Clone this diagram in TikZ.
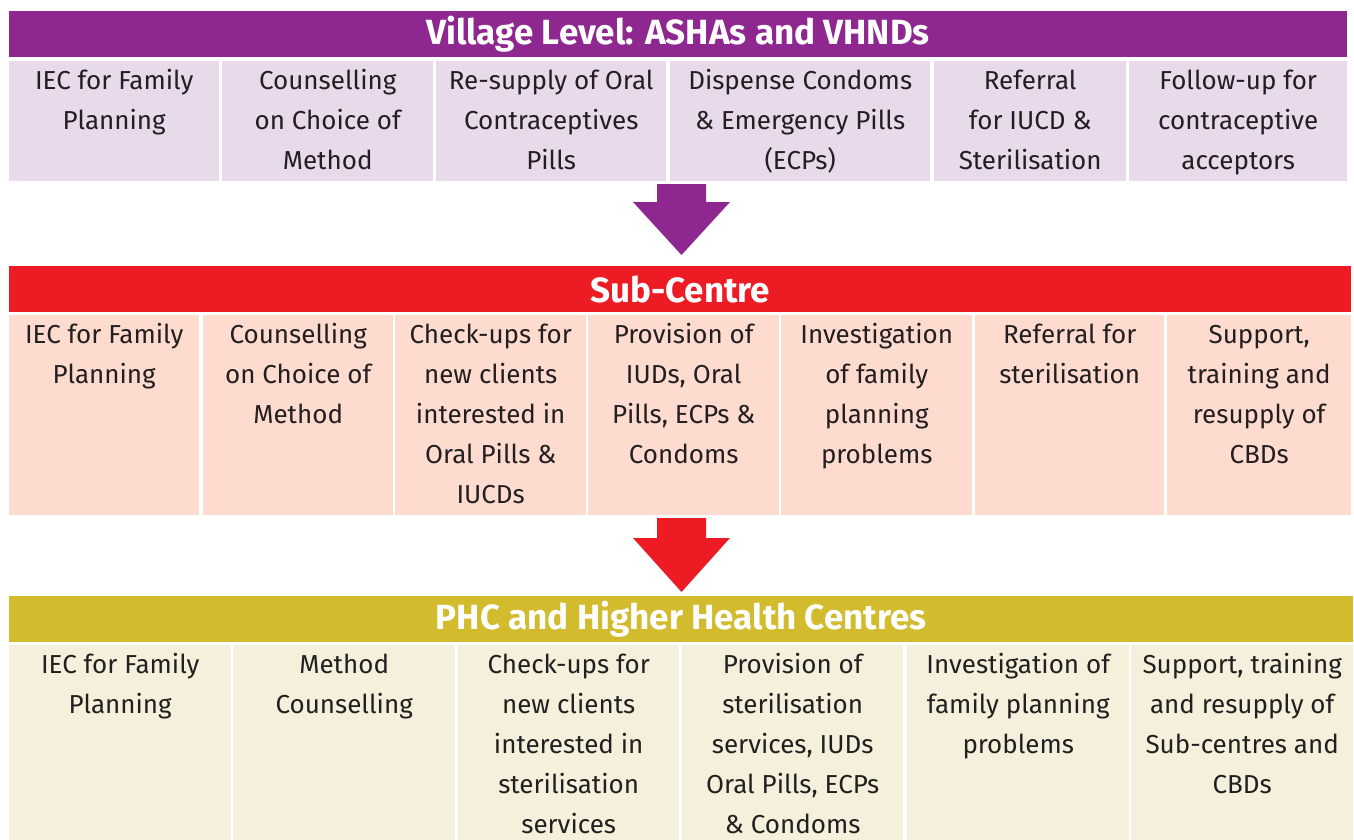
\documentclass[tikz,border=0pt]{standalone}
\usepackage{fontspec}
\setmainfont{Fira Sans}
\usepackage{tikz}
\usetikzlibrary{positioning}

\definecolor{ashapurple}{HTML}{8E278F}
\definecolor{ashacell}{HTML}{E8D9EB}
\definecolor{subred}{HTML}{ED1C24}
\definecolor{subcell}{HTML}{FDDCCF}
\definecolor{phcgold}{HTML}{D2BB2C}
\definecolor{phccell}{HTML}{F5F0DC}
\definecolor{textdark}{HTML}{231F20}

\tikzstyle{level}=[
  rectangle,
  inner sep=0pt,
  anchor=north west,
  text=white,
  font={\fontsize{35}{40}\selectfont\bfseries}
]
\tikzstyle{cell}=[
  rectangle,
  inner sep=0pt,
  anchor=north west,
  text=textdark,
  font={\fontsize{26}{40}\selectfont}
]

\newcommand\cellbox[3]{\parbox[t][#2][t]{#1}{\centering\strut #3}}

\begin{document}
\begin{tikzpicture}[x=1pt, y=-1pt]

\useasboundingbox (0,0) rectangle (1354,840);

\newcommand\SHL{657}
\newcommand\SHR{706}
\newcommand\HDL{633}
\newcommand\HDR{730}
\newcommand\TIPX{681.5}

%% village level
\node[level, fill=ashapurple, minimum width=1338, minimum height=46] (vil) at (9,11) {Village Level: ASHAs and VHNDs};

\node[cell, fill=ashacell] (vil1) at (9,61)   {\cellbox{210pt}{120pt}{IEC for Family\\Planning}};
\node[cell, fill=ashacell] (vil2) at (222,61) {\cellbox{211pt}{120pt}{Counselling\\on Choice of\\Method}};
\node[cell, fill=ashacell] (vil3) at (436,61) {\cellbox{230pt}{120pt}{Re-supply of Oral\\Contraceptives\\Pills}};
\node[cell, fill=ashacell] (vil4) at (670,61) {\cellbox{260pt}{120pt}{Dispense Condoms\\\& Emergency Pills\\(ECPs)}};
\node[cell, fill=ashacell] (vil5) at (934,61) {\cellbox{192pt}{120pt}{Referral\\for IUCD \&\\Sterilisation}};
\node[cell, fill=ashacell] (vil6) at (1129,61) {\cellbox{218pt}{120pt}{Follow-up for\\contraceptive\\acceptors}};

\fill[ashapurple] (\SHL,184) -- (\SHR,184) -- (\SHR,202) -- (\HDR,202) -- (\TIPX,255) -- (\HDL,202) -- (\SHL,202) -- cycle;

%% sub-centre
\node[level, fill=subred, minimum width=1342, minimum height=46] (sub) at (9,266) {Sub-Centre};

\node[cell, fill=subcell] (sub1) at (9,315)   {\cellbox{190pt}{200pt}{IEC for Family\\Planning}};
\node[cell, fill=subcell] (sub2) at (203,315) {\cellbox{190pt}{200pt}{Counselling\\on Choice of\\Method}};
\node[cell, fill=subcell] (sub3) at (395,315) {\cellbox{191pt}{200pt}{Check-ups for\\new clients\\interested in\\Oral Pills \&\\IUCDs}};
\node[cell, fill=subcell] (sub4) at (588,315) {\cellbox{191pt}{200pt}{Provision of\\IUDs, Oral\\Pills, ECPs \&\\Condoms}};
\node[cell, fill=subcell] (sub5) at (781,315) {\cellbox{191pt}{200pt}{Investigation\\of family\\planning\\problems}};
\node[cell, fill=subcell] (sub6) at (975,315) {\cellbox{189pt}{200pt}{Referral for\\sterilisation}};
\node[cell, fill=subcell] (sub7) at (1167,315) {\cellbox{184pt}{200pt}{Support,\\training and\\resupply of\\CBDs}};

\fill[subred] (\SHL,518) -- (\SHR,518) -- (\SHR,538) -- (\HDR,538) -- (\TIPX,592) -- (\HDL,538) -- (\SHL,538) -- cycle;

%% phc and higher
\node[level, fill=phcgold, minimum width=1344, minimum height=46] (phc) at (9,596) {PHC and Higher Health Centres};

\node[cell, fill=phccell] (phc1) at (9,645)   {\cellbox{222pt}{195pt}{IEC for Family\\Planning}};
\node[cell, fill=phccell] (phc2) at (233,645) {\cellbox{222pt}{195pt}{Method\\Counselling}};
\node[cell, fill=phccell] (phc3) at (458,645) {\cellbox{221pt}{195pt}{Check-ups for\\new clients\\interested in\\sterilisation\\services}};
\node[cell, fill=phccell] (phc4) at (682,645) {\cellbox{221pt}{195pt}{Provision of\\sterilisation\\services, IUDs\\Oral Pills, ECPs\\\& Condoms}};
\node[cell, fill=phccell] (phc5) at (907,645) {\cellbox{222pt}{195pt}{Investigation of\\family planning\\problems}};
\node[cell, fill=phccell] (phc6) at (1131,645) {\cellbox{222pt}{195pt}{Support, training\\and resupply of\\Sub-centres and\\CBDs}};

\end{tikzpicture}
\end{document}
